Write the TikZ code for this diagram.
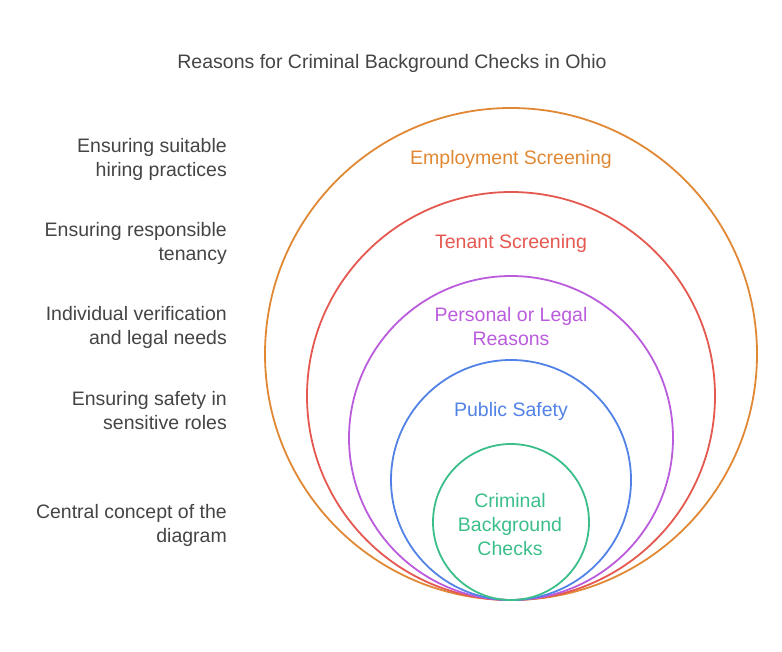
\documentclass[tikz,border=0pt]{standalone}
\usepackage{fontspec}
\setmainfont{Liberation Sans}
\definecolor{empc}{RGB}{224,136,52}
\definecolor{tenc}{RGB}{229,88,80}
\definecolor{perc}{RGB}{186,92,220}
\definecolor{pubc}{RGB}{82,130,230}
\definecolor{crimc}{RGB}{60,190,138}
\definecolor{txtc}{RGB}{68,68,68}
\tikzset{
  ring/.style={draw, circle, line width=1.8pt, inner sep=0pt},
  ringlabel/.style={font=\fontsize{19.5}{24}\selectfont, align=center},
  sidelabel/.style={font=\fontsize{19.5}{24}\selectfont, align=right, anchor=east, text=txtc, inner sep=0pt}
}
\begin{document}
\begin{tikzpicture}[x=1pt, y=-1pt]
  \useasboundingbox (0,0) rectangle (782,651);
  % Title
  \node[font=\fontsize{19.5}{24}\selectfont, text=txtc] (title) at (392,63) {Reasons for Criminal Background Checks in Ohio};
  % Circles
  \node[ring, empc, minimum size=492pt] (emp) at (511,354) {};
  \node[ring, tenc, minimum size=408pt] (ten) at (511,396) {};
  \node[ring, perc, minimum size=324pt] (per) at (511,438) {};
  \node[ring, pubc, minimum size=240pt] (pub) at (511,480) {};
  \node[ring, crimc, minimum size=156pt] (crim) at (511,522) {};
  % Circle labels
  \node[ringlabel, text=empc] (emplabel) at (511,159) {Employment Screening};
  \node[ringlabel, text=tenc] (tenlabel) at (511,243) {Tenant Screening};
  \node[ringlabel, text=perc] (perlabel) at (511,327) {Personal or Legal\\Reasons};
  \node[ringlabel, text=pubc] (publabel) at (511,411) {Public Safety};
  \node[ringlabel, text=crimc] (crimlabel) at (510,525) {Criminal\\Background\\Checks};
  % Side labels
  \node[sidelabel] (empside) at (227,159) {Ensuring suitable\\hiring practices};
  \node[sidelabel] (tenside) at (227,243) {Ensuring responsible\\tenancy};
  \node[sidelabel] (perside) at (227,327) {Individual verification\\and legal needs};
  \node[sidelabel] (pubside) at (227,411) {Ensuring safety in\\sensitive roles};
  \node[sidelabel] (crimside) at (227,525) {Central concept of the\\diagram};
\end{tikzpicture}
\end{document}
